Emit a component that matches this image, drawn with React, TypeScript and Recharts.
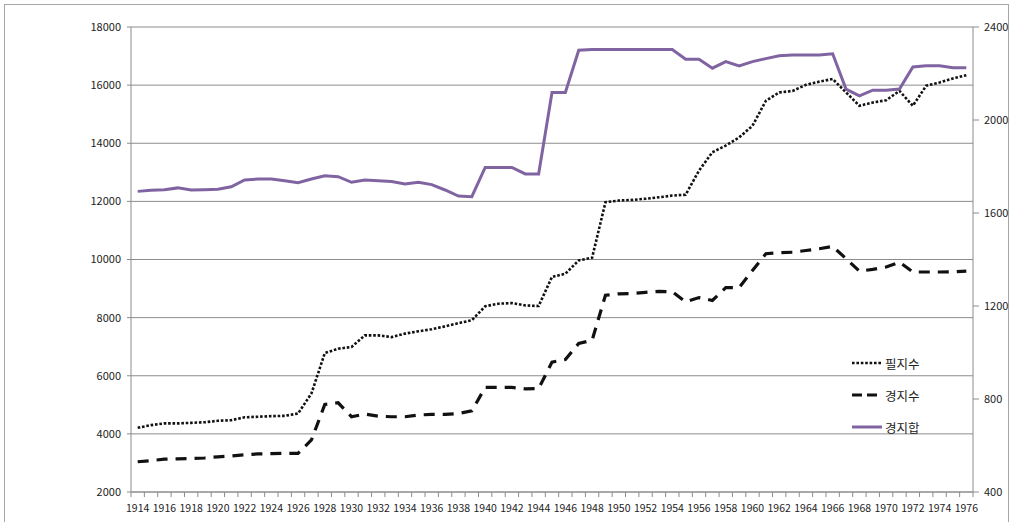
import React from 'react';
import { LineChart, Line, XAxis, YAxis, CartesianGrid } from 'recharts';

const years = [
  1914, 1915, 1916, 1917, 1918, 1919, 1920, 1921, 1922, 1923,
  1924, 1925, 1926, 1927, 1928, 1929, 1930, 1931, 1932, 1933,
  1934, 1935, 1936, 1937, 1938, 1939, 1940, 1941, 1942, 1943,
  1944, 1945, 1946, 1947, 1948, 1949, 1950, 1951, 1952, 1953,
  1954, 1955, 1956, 1957, 1958, 1959, 1960, 1961, 1962, 1963,
  1964, 1965, 1966, 1967, 1968, 1969, 1970, 1971, 1972, 1973,
  1974, 1975, 1976,
];

// 필지수 (left axis)
const parcelCount = [
  4210, 4300, 4360, 4360, 4380, 4400, 4450, 4470, 4570, 4590,
  4610, 4620, 4700, 5390, 6780, 6930, 6990, 7390, 7390, 7330,
  7450, 7530, 7600, 7700, 7810, 7910, 8390, 8480, 8500, 8420,
  8400, 9400, 9510, 9970, 10060, 11970, 12030, 12050, 12090, 12140,
  12200, 12230, 13060, 13690, 13920, 14200, 14600, 15460, 15750, 15800,
  16010, 16120, 16210, 15750, 15290, 15400, 15480, 15800, 15290, 15980,
  16090, 16230, 16340,
];

// 경지수 (left axis)
const farmCount = [
  3040, 3080, 3130, 3140, 3150, 3170, 3210, 3240, 3280, 3310,
  3320, 3330, 3330, 3790, 5010, 5070, 4590, 4680, 4610, 4590,
  4590, 4650, 4670, 4670, 4700, 4790, 5600, 5600, 5600, 5550,
  5560, 6470, 6560, 7110, 7220, 8770, 8820, 8830, 8870, 8900,
  8890, 8540, 8690, 8590, 9030, 9030, 9620, 10200, 10230, 10250,
  10310, 10370, 10450, 10030, 9600, 9660, 9740, 9910, 9570, 9570,
  9570, 9580, 9600,
];

// 경지합 (right axis)
const farmTotal = [
  1693, 1698, 1700, 1708, 1699, 1700, 1702, 1713, 1742, 1746,
  1746, 1739, 1730, 1746, 1760, 1756, 1732, 1742, 1739, 1735,
  1725, 1732, 1722, 1699, 1673, 1670, 1796, 1796, 1796, 1768,
  1768, 2118, 2118, 2300, 2303, 2303, 2303, 2303, 2303, 2303,
  2303, 2261, 2261, 2223, 2251, 2233, 2251, 2264, 2276, 2280,
  2280, 2280, 2285, 2133, 2104, 2128, 2128, 2133, 2228, 2233,
  2233, 2225, 2225,
];

const leftTicks = [2000, 4000, 6000, 8000, 10000, 12000, 14000, 16000, 18000];
const rightTicks = [400, 800, 1200, 1600, 2000, 2400];

const data = years.map((year, i) => ({
  year,
  parcel: parcelCount[i],
  farm: farmCount[i],
  total: farmTotal[i],
}));

const W = 1013;
const H = 522;
const PLOT_LEFT = 131;
const PLOT_RIGHT = 973;
const PLOT_TOP = 27;
const PLOT_BOTTOM = 492;
const BAND = (PLOT_RIGHT - PLOT_LEFT) / years.length;

const GRAY = '#8c8c8c';
const TEXT = '#222';
const PURPLE = '#8064a2';
const FONT = '"Noto Sans CJK KR", "Noto Sans", sans-serif';

const PARCEL_DASH = '2.6 1.8';
const FARM_DASH = '11 8';

// Excel-style category axis: ticks between categories, label on every other year
function YearTick(props: any) {
  const { x, payload, index } = props;
  const left = x - BAND / 2;
  const last = index === years.length - 1;
  return (
    <g>
      <line x1={left} x2={left} y1={PLOT_BOTTOM} y2={PLOT_BOTTOM + 5} stroke={GRAY} />
      {last && (
        <line x1={x + BAND / 2} x2={x + BAND / 2} y1={PLOT_BOTTOM} y2={PLOT_BOTTOM + 5} stroke={GRAY} />
      )}
      {payload.value % 2 === 0 && (
        <text x={x} y={PLOT_BOTTOM + 13} dy="0.71em" textAnchor="middle" fill={TEXT} fontSize={10.5} fontFamily={FONT}>
          {payload.value}
        </text>
      )}
    </g>
  );
}

function LegendBox() {
  const rows = [
    { name: '필지수', stroke: '#111', dash: PARCEL_DASH, width: 2.6 },
    { name: '경지수', stroke: '#111', dash: '10 5', width: 3.2 },
    { name: '경지합', stroke: PURPLE, dash: undefined, width: 3 },
  ];
  return (
    <div style={{ position: 'absolute', left: 851, top: 347, fontFamily: FONT, fontSize: 12.5, color: TEXT }}>
      {rows.map((r) => (
        <div key={r.name} style={{ display: 'flex', alignItems: 'center', height: 32 }}>
          <svg width={32} height={8} style={{ display: 'block' }}>
            <line x1={1} x2={31} y1={4} y2={4} stroke={r.stroke} strokeWidth={r.width} strokeDasharray={r.dash} />
          </svg>
          <span style={{ marginLeft: 2 }}>{r.name}</span>
        </div>
      ))}
    </div>
  );
}

export default function App() {
  return (
    <div style={{ position: 'absolute', left: 0, top: 0, width: W, height: H, overflow: 'hidden', background: '#fff' }}>
      <div style={{ position: 'absolute', left: 4, top: 4, width: 1003, height: 600, border: '1px solid #a6a6a6' }} />
      <div style={{ position: 'absolute', left: 0, top: 0 }}>
        <LineChart width={W} height={H} data={data} margin={{ top: PLOT_TOP, right: 0, bottom: 0, left: 0 }}>
          <CartesianGrid yAxisId="left" vertical={false} stroke={GRAY} />
          <XAxis
            dataKey="year"
            interval={0}
            height={H - PLOT_BOTTOM}
            padding={{ left: BAND / 2, right: BAND / 2 }}
            tickLine={false}
            tick={<YearTick />}
            axisLine={{ stroke: GRAY }}
          />
          <YAxis
            yAxisId="left"
            domain={[2000, 18000]}
            ticks={leftTicks}
            interval={0}
            width={PLOT_LEFT}
            tickSize={4}
            tickMargin={6}
            axisLine={{ stroke: GRAY }}
            tickLine={{ stroke: GRAY }}
            tick={{ fill: TEXT, fontSize: 11, fontFamily: FONT }}
          />
          <YAxis
            yAxisId="right"
            orientation="right"
            domain={[400, 2400]}
            ticks={rightTicks}
            interval={0}
            width={W - PLOT_RIGHT}
            tickSize={6}
            tickMargin={5}
            axisLine={{ stroke: GRAY }}
            tickLine={{ stroke: GRAY }}
            tick={{ fill: TEXT, fontSize: 11, fontFamily: FONT }}
          />
          <Line
            yAxisId="left"
            type="linear"
            dataKey="parcel"
            name="필지수"
            stroke="#111"
            strokeWidth={2.6}
            strokeDasharray={PARCEL_DASH}
            dot={false}
            isAnimationActive={false}
          />
          <Line
            yAxisId="left"
            type="linear"
            dataKey="farm"
            name="경지수"
            stroke="#111"
            strokeWidth={3.2}
            strokeDasharray={FARM_DASH}
            dot={false}
            isAnimationActive={false}
          />
          <Line
            yAxisId="right"
            type="linear"
            dataKey="total"
            name="경지합"
            stroke={PURPLE}
            strokeWidth={3}
            dot={false}
            isAnimationActive={false}
          />
        </LineChart>
      </div>
      <LegendBox />
    </div>
  );
}
